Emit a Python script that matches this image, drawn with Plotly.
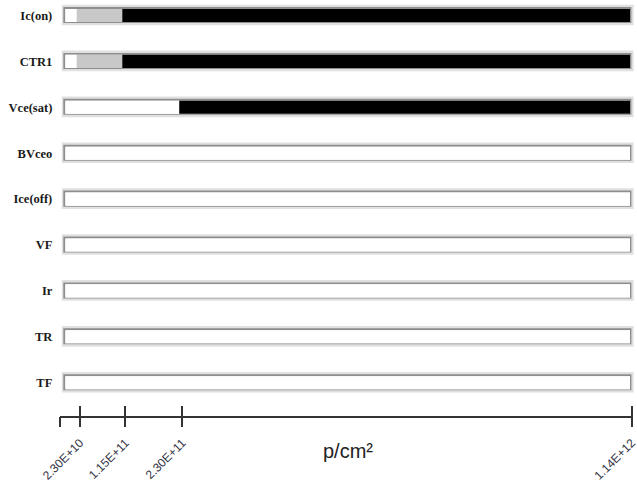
import plotly.graph_objects as go

# ---------------- data ----------------
params = ["Ic(on)", "CTR1", "Vce(sat)", "BVceo", "Ice(off)", "VF", "Ir", "TR", "TF"]
gray_start = [2.30e10, 2.30e10, None, None, None, None, None, None, None]
black_start = [1.15e11, 1.15e11, 2.30e11, None, None, None, None, None, None]
max_fluence = 1.14e12
ruler_start = -1.7e10
tick_values = [ruler_start, 2.30e10, 1.15e11, 2.30e11, 1.14e12]
tick_labels = ["", "2.30E+10", "1.15E+11", "2.30E+11", "1.14E+12"]
axis_label = "p/cm²"

W, H = 637, 482

# build segments
seg = {"white": ([], [], []), "gray": ([], [], []), "black": ([], [], [])}
for p, g, b in zip(params, gray_start, black_start):
    bounds = [0.0]
    cols = ["white"]
    if g is not None:
        bounds.append(g)
        cols.append("gray")
    if b is not None:
        bounds.append(b)
        cols.append("black")
    bounds.append(max_fluence)
    for i, c in enumerate(cols):
        seg[c][0].append(p)
        seg[c][1].append(bounds[i])
        seg[c][2].append(bounds[i + 1] - bounds[i])

colors = {"white": "#ffffff", "gray": "#c8c8c8", "black": "#000000"}

fig = go.Figure()
for name in ["white", "gray", "black"]:
    ys, bases, lens = seg[name]
    fig.add_trace(go.Bar(
        y=ys, x=lens, base=bases, orientation="h",
        marker=dict(color=colors[name], line=dict(width=0)),
        width=0.285, hoverinfo="skip", showlegend=False,
        xaxis="x", yaxis="y",
    ))

# invisible traces to create ruler axes
fig.add_trace(go.Scatter(x=tick_values, y=[0] * len(tick_values), mode="markers",
                         marker=dict(opacity=0), xaxis="x2", yaxis="y2",
                         hoverinfo="skip", showlegend=False))
fig.add_trace(go.Scatter(x=tick_values, y=[0] * len(tick_values), mode="markers",
                         marker=dict(opacity=0), xaxis="x3", yaxis="y2",
                         hoverinfo="skip", showlegend=False))

# frames around each bar (inset look)
shapes = []
for i, p in enumerate(params):
    shapes.append(dict(type="rect", xref="x domain", yref="y",
                       x0=-0.0062, x1=1.0065, y0=i - 0.235, y1=i + 0.215,
                       fillcolor="#e0e0e0", line=dict(width=0), layer="below"))
    shapes.append(dict(type="rect", xref="x domain", yref="y",
                       x0=-0.0035, x1=1.0025, y0=i - 0.185, y1=i + 0.165,
                       fillcolor="#8e8e8e", line=dict(width=0), layer="below"))
    shapes.append(dict(type="rect", xref="x domain", yref="y",
                       x0=0.0, x1=1.0, y0=i - 0.1425, y1=i + 0.1425,
                       fillcolor="#ffffff", line=dict(width=0), layer="below"))

row0 = 15.5
row_step = 45.9
y_bottom_px = 400
ruler_px = 415.5
ruler_end = max_fluence * 1.002  # tiny pad so the last tick is kept

fig.update_layout(
    width=W, height=H,
    margin=dict(l=0, r=0, t=0, b=0, autoexpand=False),
    paper_bgcolor="white", plot_bgcolor="rgba(0,0,0,0)",
    barmode="overlay",
    shapes=shapes,
    xaxis=dict(domain=[65.3 / W, 630.0 / W], range=[0, max_fluence],
               automargin=False,
               showgrid=False, zeroline=False, showline=False,
               showticklabels=False, ticks=""),
    yaxis=dict(type="category", categoryorder="array", categoryarray=params,
               automargin=False,
               domain=[1 - y_bottom_px / H, 1],
               range=[(y_bottom_px - row0) / row_step, -row0 / row_step],
               showgrid=False, zeroline=False, showline=False, ticks="",
               ticklabelstandoff=12,
               tickfont=dict(family="Liberation Serif", size=12.5, color="#1a1a1a",
                             weight="bold")),
    xaxis2=dict(domain=[60.3 / W, 632.8 / W], range=[ruler_start, ruler_end],
                anchor="y2", automargin=False, showgrid=False, zeroline=False,
                showline=True, linecolor="#333333", linewidth=1.5,
                ticks="outside", ticklen=10, tickwidth=1.5, tickcolor="#333333",
                tickmode="array", tickvals=tick_values, ticktext=tick_labels,
                tickangle=-45, ticklabelstandoff=4, ticklabeloverflow="allow",
                tickfont=dict(family="Liberation Sans", size=12, color="#333344")),
    xaxis3=dict(domain=[60.3 / W, 632.8 / W], range=[ruler_start, ruler_end],
                anchor="y2", automargin=False, showgrid=False, zeroline=False,
                showline=False,
                ticks="inside", ticklen=10, tickwidth=1.5, tickcolor="#333333",
                tickmode="array", tickvals=tick_values, showticklabels=False),
    yaxis2=dict(domain=[1 - ruler_px / H, 1 - ruler_px / H + 0.01], range=[0, 1],
                automargin=False,
                visible=False, showgrid=False, zeroline=False),
    annotations=[dict(text=axis_label, xref="paper", yref="paper",
                      x=348 / W, y=1 - 451 / H, xanchor="center", yanchor="middle",
                      showarrow=False,
                      font=dict(family="Liberation Sans", size=20, color="#222222"))],
)

fig.write_html(
    "out.html",
    config={"displayModeBar": False},
    post_script="document.body.style.margin='0';document.body.style.overflow='hidden';",
)
